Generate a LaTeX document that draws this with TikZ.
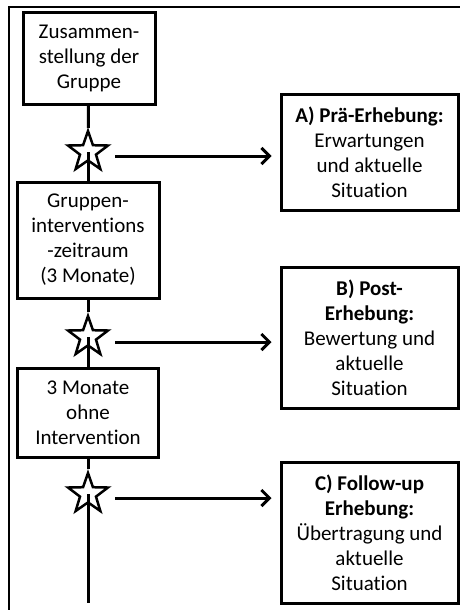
\documentclass[tikz,border=0pt]{standalone}
\usepackage{fontspec}
\setmainfont{Carlito}[Ligatures=NoCommon]
\usetikzlibrary{positioning,arrows.meta,shapes.geometric}

\begin{document}
\begin{tikzpicture}[
    x=1pt, y=-1pt,
    every node/.style={font=\fontsize{21}{25}\selectfont,align=center},
    phase/.style={rectangle,draw,line width=3pt,inner sep=0pt},
    survey/.style={rectangle,draw,line width=3pt,inner sep=0pt,
                   minimum width=177pt,minimum height=141pt},
    timepoint/.style={star,star points=5,star point ratio=2.5,draw,
                      fill=white,line width=2.5pt,minimum size=42pt,inner sep=0pt},
    link/.style={line width=3pt},
    arrow/.style={-{Straight Barb[length=8pt,width=16pt]},line width=3pt,
                  shorten >=8pt},
]
    \useasboundingbox (0,0) rectangle (460,610);
    \draw[line width=2pt] (9,612) |- (462,7);

    % Ablauf links
    \node[phase,minimum width=132pt,minimum height=91pt] (grp)  at (89,58.5)
        {Zusammen-\\stellung der\\Gruppe};
    \node[timepoint] (t1) at (88,152) {};
    \node[phase,minimum width=142pt,minimum height=116pt] (ivz) at (88,240)
        {Gruppen-\\interventions\\-zeitraum\\(3 Monate)};
    \node[timepoint] (t2) at (88,337) {};
    \node[phase,minimum width=141pt,minimum height=89pt] (ohne) at (88,412.5)
        {3 Monate\\ohne\\Intervention};
    \node[timepoint] (t3) at (88,494) {};
    \coordinate (tail) at (88,603);

    % Erhebungen rechts
    \node[survey,minimum height=116pt] (pre) at (369.5,152)
        {\textbf{A) Prä-Erhebung:}\\Erwartungen\\und aktuelle\\Situation};
    \node[survey] (post) at (369.5,337.5)
        {\textbf{B) Post-}\\\textbf{Erhebung:}\\Bewertung und\\aktuelle\\Situation};
    \node[survey] (fu) at (369.5,532.5)
        {\textbf{C) Follow-up}\\\textbf{Erhebung:}\\Übertragung und\\aktuelle\\Situation};

    \draw[link] (grp)  -- (t1);
    \draw[link] (t1.center) -- (ivz);
    \draw[link] (ivz)  -- (t2);
    \draw[link] (t2.center) -- (ohne);
    \draw[link] (ohne) -- (t3);
    \draw[link] (t3.center) -- (tail);

    \coordinate (a1) at ([xshift=27pt,yshift=-4pt]t1.center);
    \coordinate (a2) at ([xshift=27pt,yshift=-5pt]t2.center);
    \coordinate (a3) at ([xshift=27pt,yshift=-4pt]t3.center);
    \draw[arrow] (a1) -- (a1 -| pre.west);
    \draw[arrow] (a2) -- (a2 -| post.west);
    \draw[arrow] (a3) -- (a3 -| fu.west);
\end{tikzpicture}
\end{document}
